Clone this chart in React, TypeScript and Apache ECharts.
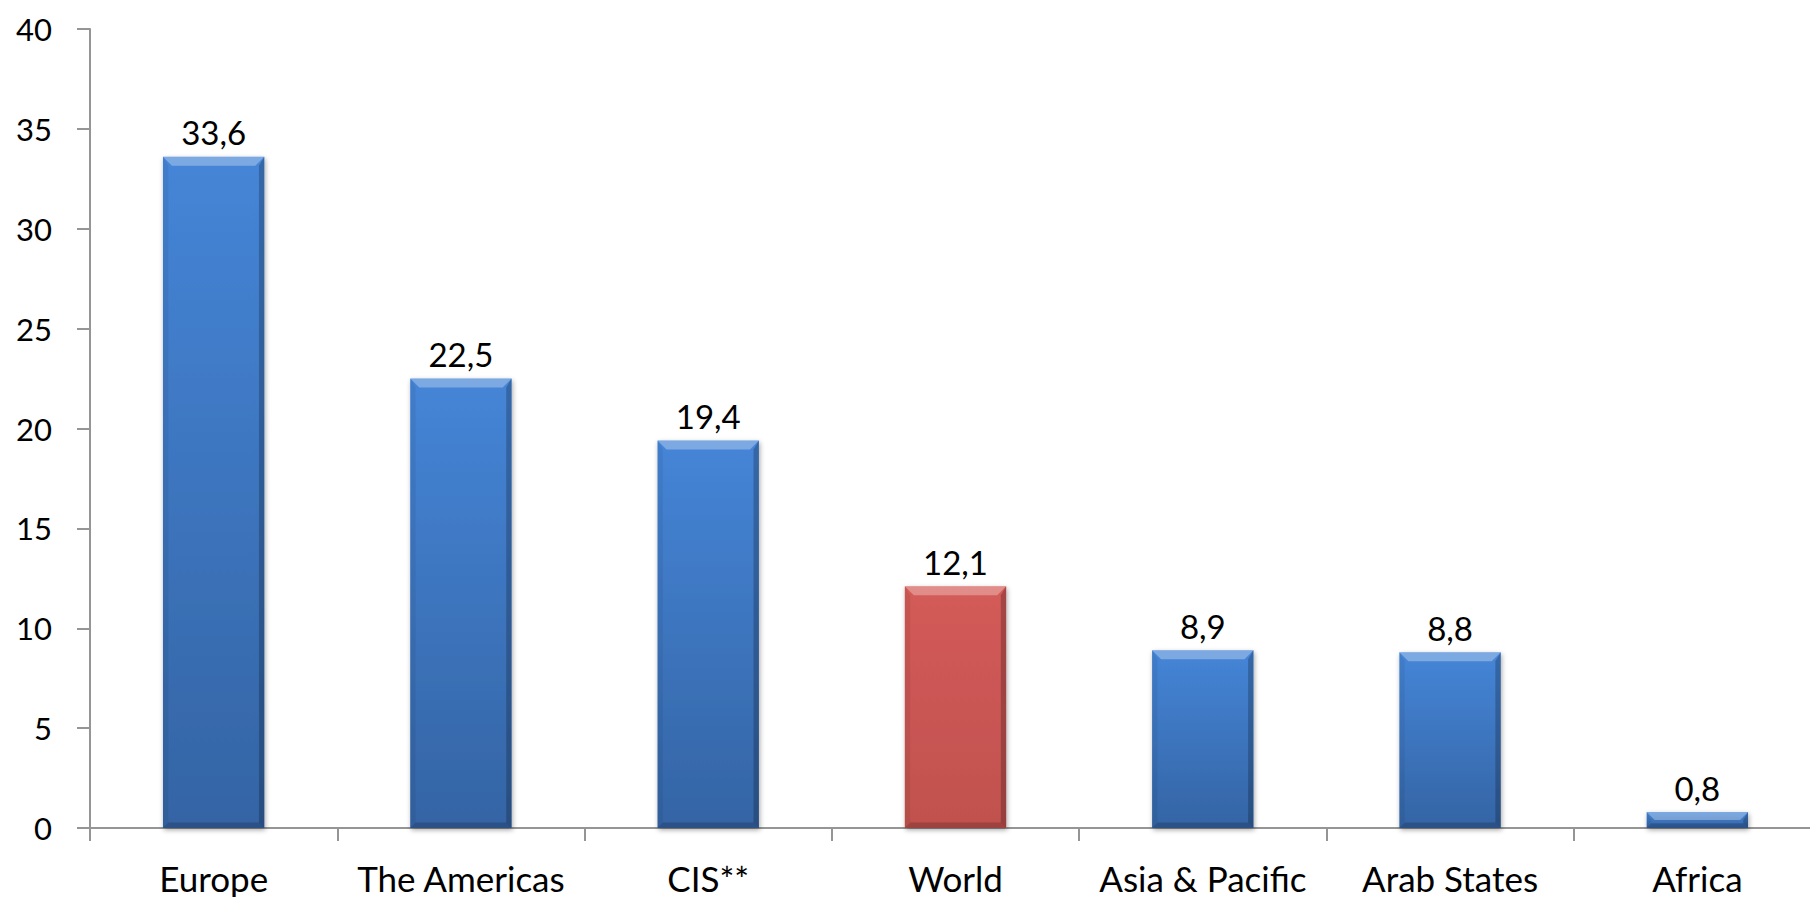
import React, { useEffect, useRef } from "react";
import * as echarts from "echarts";

const categories = ["Europe", "The Americas", "CIS**", "World", "Asia & Pacific", "Arab States", "Africa"];
const values = [33.6, 22.5, 19.4, 12.1, 8.9, 8.8, 0.8];
const highlighted = "World";
const yMin = 0;
const yMax = 40;
const yInterval = 5;

const FONT = "Lato";
const BAR_FRACTION = 0.41;
const AXIS_COLOR = "#959595";

function blueFill() {
  return new echarts.graphic.LinearGradient(0, 0, 0, 1, [
    { offset: 0, color: "#4585d7" },
    { offset: 1, color: "#3464a4" },
  ]);
}
function redFill() {
  return new echarts.graphic.LinearGradient(0, 0, 0, 1, [
    { offset: 0, color: "#d45b58" },
    { offset: 1, color: "#c0514e" },
  ]);
}

export default function App() {
  const ref = useRef<HTMLDivElement>(null);
  useEffect(() => {
    if (!ref.current) return;
    const chart = echarts.init(ref.current, undefined, { renderer: "svg" });
    const barData = values.map((v, i) => ({
      value: v,
      itemStyle: { color: categories[i] === highlighted ? redFill() : blueFill() },
    }));
    chart.setOption({
      animation: false,
      backgroundColor: "#ffffff",
      grid: { left: 90, right: 0, top: 29, bottom: 69, containLabel: false },
      xAxis: {
        type: "category",
        data: categories,
        axisLine: { lineStyle: { color: AXIS_COLOR, width: 2 } },
        axisTick: { show: true, length: 13, lineStyle: { color: AXIS_COLOR, width: 2 } },
        axisLabel: { color: "#000", fontFamily: FONT, fontSize: 35, margin: 32, interval: 0 },
      },
      yAxis: {
        type: "value",
        min: yMin,
        max: yMax,
        interval: yInterval,
        axisLine: { show: true, lineStyle: { color: AXIS_COLOR, width: 2 } },
        axisTick: { show: true, inside: false, length: 13, lineStyle: { color: AXIS_COLOR, width: 2 } },
        splitLine: { show: false },
        axisLabel: { color: "#000", fontFamily: FONT, fontSize: 31, margin: 38 },
      },
      series: [
        {
          type: "bar",
          data: barData,
          barWidth: (BAR_FRACTION * 100).toFixed(1) + "%",
          itemStyle: {
            shadowColor: "rgba(0,0,0,0.35)",
            shadowBlur: 5,
            shadowOffsetX: 1,
            shadowOffsetY: 2,
          },
          label: {
            show: true,
            position: "top",
            distance: 8,
            color: "#000",
            fontFamily: FONT,
            fontSize: 33,
            formatter: (p: any) => Number(p.value).toFixed(1).replace(".", ","),
          },
          z: 2,
        },
        {
          type: "custom",
          z: 3,
          silent: true,
          data: values.map((v, i) => [i, v]),
          renderItem: (params: any, api: any) => {
            const x = api.value(0);
            const y = api.value(1);
            const top = api.coord([x, y]);
            const bottom = api.coord([x, 0]);
            const bw = api.size([1, 0])[0] * BAR_FRACTION;
            const l = top[0] - bw / 2;
            const r = top[0] + bw / 2;
            const t = top[1];
            const b = bottom[1];
            const bev = Math.min(9, (b - t) / 2);
            const side = bev * 0.6;
            return {
              type: "group",
              children: [
                {
                  type: "polygon",
                  shape: { points: [[l, t], [r, t], [r - bev, t + bev], [l + bev, t + bev]] },
                  style: { fill: "rgba(255,255,255,0.3)" },
                },
                {
                  type: "polygon",
                  shape: { points: [[l, t], [l + side, t + bev], [l + side, b - side], [l, b]] },
                  style: { fill: "rgba(0,0,0,0.06)" },
                },
                {
                  type: "polygon",
                  shape: { points: [[r, t], [r - side, t + bev], [r - side, b - side], [r, b]] },
                  style: { fill: "rgba(0,0,0,0.22)" },
                },
                {
                  type: "polygon",
                  shape: { points: [[l, b], [r, b], [r - side, b - side], [l + side, b - side]] },
                  style: { fill: "rgba(0,0,0,0.18)" },
                },
              ],
            };
          },
        },
      ],
    });
    return () => chart.dispose();
  }, []);
  return (
    <div
      style={{ position: "absolute", left: 0, top: 0, width: 1810, height: 897, overflow: "hidden" }}
    >
      <div ref={ref} style={{ width: 1821, height: 897 }} />
    </div>
  );
}
